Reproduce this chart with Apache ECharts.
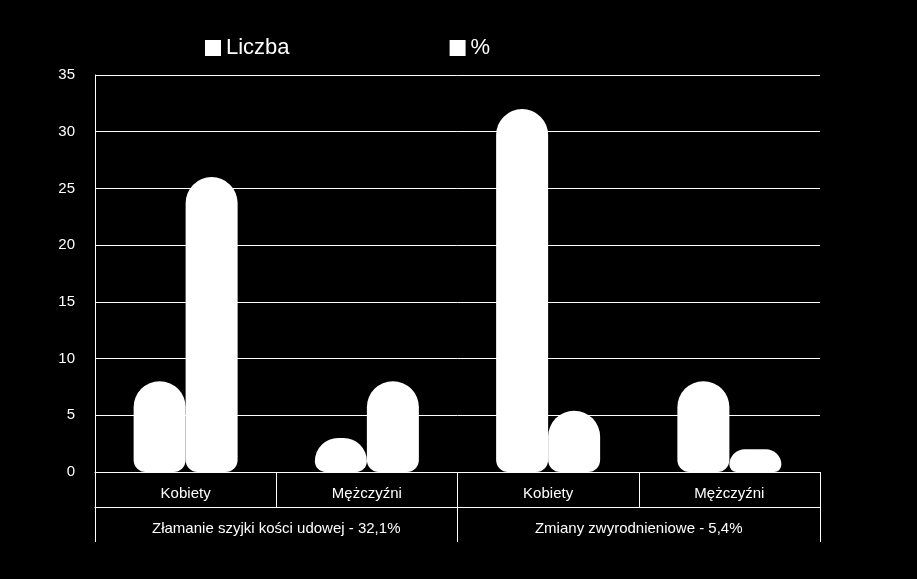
<!DOCTYPE html>
<html><head><meta charset="utf-8">
<script src="https://cdn.jsdelivr.net/npm/echarts@6/dist/echarts.min.js"></script>
<style>html,body{margin:0;background:#000}#c{width:917px;height:579px}</style>
</head><body><div id="c"></div>
<script>
const categories = ['Kobiety','Mężczyźni','Kobiety','Mężczyźni'];
const groups = ['Złamanie szyjki kości udowej - 32,1%','Zmiany zwyrodnieniowe - 5,4%'];
const liczba = [8, 3, 32, 8];
const procent = [26, 8, 5.4, 2];
const yTicks = {min:0, max:35, interval:5};
const txt = {color:'#fff', fontFamily:'Liberation Sans', fontSize:15};
const chart = echarts.init(document.getElementById('c'));
chart.setOption({
  backgroundColor:'#000',
  animation:false,
  legend:{data:['Liczba','%'], top:32, left:200, itemGap:160, icon:'rect', itemWidth:16, itemHeight:16,
    textStyle:{color:'#fff', fontFamily:'Liberation Sans', fontSize:22}},
  grid:{left:95, right:97, top:75, bottom:107},
  xAxis:[
    {type:'category', data:categories, position:'bottom',
     axisLine:{show:true, lineStyle:{color:'#fff'}},
     axisTick:{show:true, interval:0, alignWithLabel:false, length:35, lineStyle:{color:'#fff'}},
     axisLabel:{...txt, margin:14}},
    {type:'category', data:groups, position:'bottom', offset:35,
     axisLine:{show:true, lineStyle:{color:'#fff'}},
     axisTick:{show:true, interval:0, alignWithLabel:false, length:35, lineStyle:{color:'#fff'}},
     axisLabel:{...txt, margin:14}}
  ],
  yAxis:{type:'value', ...yTicks,
    axisLine:{show:true, lineStyle:{color:'#fff'}},
    axisLabel:{...txt, margin:20},
    splitLine:{lineStyle:{color:'#fff'}}},
  series:[
    {name:'Liczba', type:'bar', data:liczba, barWidth:52, barGap:'0%', itemStyle:{color:'#fff', borderRadius:[26,26,12,12]}},
    {name:'%', type:'bar', data:procent, barWidth:52, itemStyle:{color:'#fff', borderRadius:[26,26,12,12]}}
  ]
});
</script></body></html>
